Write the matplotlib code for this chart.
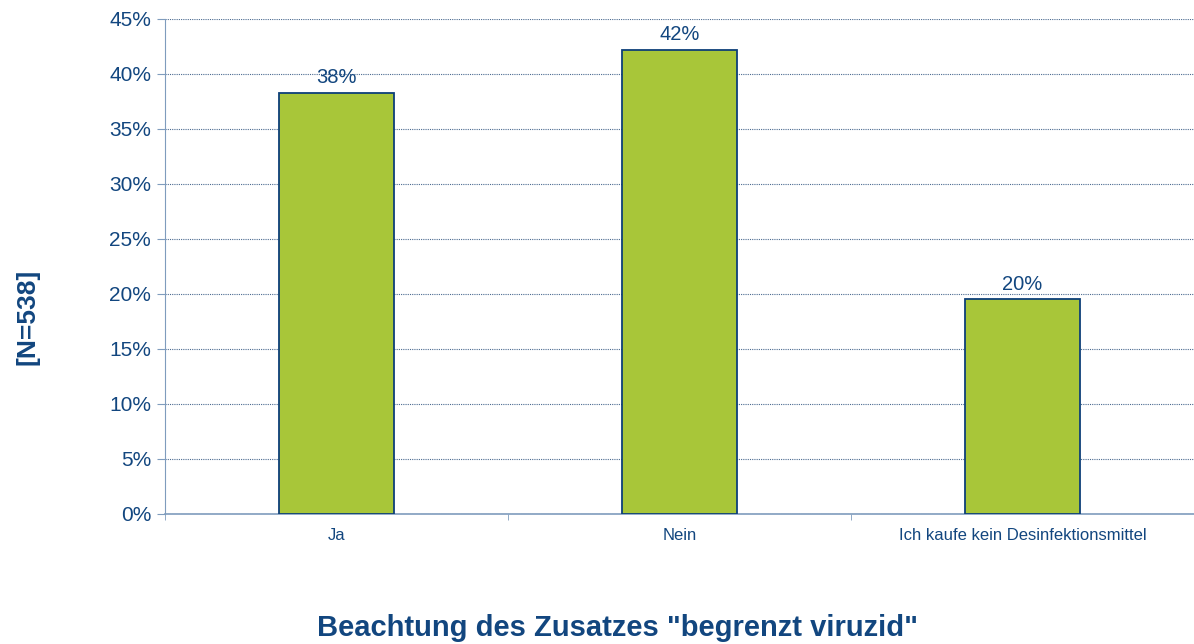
import numpy as np
import matplotlib.pyplot as plt
from matplotlib.ticker import FixedLocator, PercentFormatter

categories = ['Ja', 'Nein', 'Ich kaufe kein Desinfektionsmittel']
values = [38.3, 42.2, 19.5]
labels = ['38%', '42%', '20%']

textColor = '#12467f'
barColor = '#a8c639'
edgeColor = '#0d3f78'
spineColor = '#7f9cbd'

plt.rcParams.update({'font.family': ['Liberation Sans', 'DejaVu Sans']})

fig = plt.figure(figsize=(11.94, 6.44), dpi=100)
ax = fig.add_axes([0.1382, 0.2019, 0.8618, 0.7686])

x = np.arange(len(categories))
ax.bar(x, values, width=0.333, color=barColor, edgecolor=edgeColor, linewidth=1.3, zorder=3)
for xi, v, lab in zip(x, values, labels):
    ax.text(xi, v + 0.5, lab, ha='center', va='bottom', fontsize=14.5, color=textColor)

ax.set_xlim(-0.5, len(categories) - 0.5)
ax.set_ylim(0, 45)
ax.set_yticks(np.arange(0, 46, 5))
ax.yaxis.set_major_formatter(PercentFormatter(decimals=0))
ax.set_xticks(x)
ax.set_xticklabels(categories)
ax.xaxis.set_minor_locator(FixedLocator(np.arange(-0.5, len(categories), 1)))
ax.tick_params(axis='x', which='major', length=0, pad=10, labelsize=12, labelcolor=textColor)
ax.tick_params(axis='x', which='minor', length=4, color=spineColor, direction='out')
ax.tick_params(axis='y', length=6, color=spineColor, labelsize=15, labelcolor=textColor, pad=4)

ax.grid(axis='y', linestyle=(0, (1, 1)), color='#4a6a90', linewidth=0.8, zorder=0)
for s in ['top', 'right']:
    ax.spines[s].set_visible(False)
ax.spines['left'].set_color(spineColor)
ax.spines['bottom'].set_color(spineColor)
ax.spines['bottom'].set_linewidth(1.2)

fig.text(0.023, 0.508, '[N=538]', rotation=90, ha='center', va='center',
         fontsize=19, fontweight='bold', color=textColor)
fig.text(0.517, 1 - 628 / 644, 'Beachtung des Zusatzes "begrenzt viruzid"', ha='center', va='center',
         fontsize=21, fontweight='bold', color=textColor)

fig.savefig('out.png', dpi=100)
